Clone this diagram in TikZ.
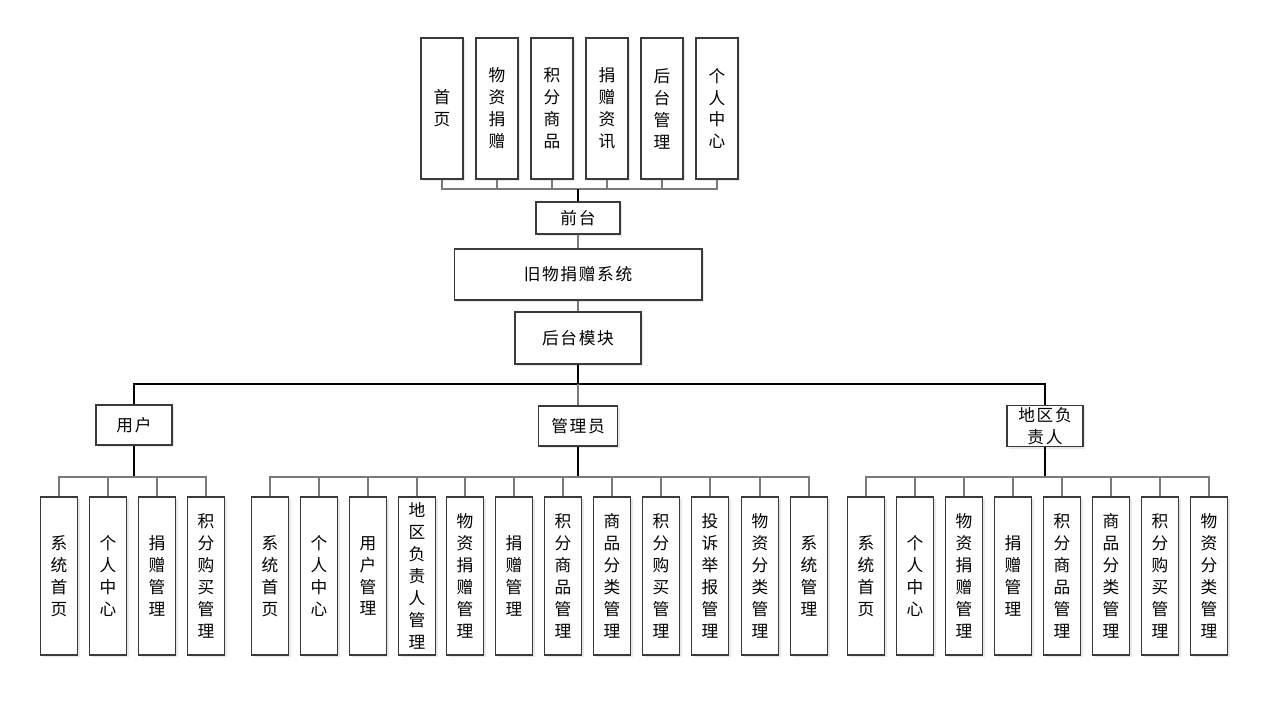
\documentclass[tikz,border=0pt]{standalone}
\usepackage{fontspec}
\usepackage{tikz}
\usetikzlibrary{shadows}
\newfontfamily\cjk{Noto Sans CJK SC}
\newfontfamily\cjkwide[LetterSpace=10]{Noto Sans CJK SC}
\definecolor{BoxLine}{HTML}{3A3A3A}
\definecolor{LinkGray}{HTML}{7A7A7A}

\begin{document}
\begin{tikzpicture}[x=0.02cm, y=-0.02cm,
  every node/.style={font=\cjk\fontsize{9.5}{12.5}\selectfont},
  bx/.style={draw=BoxLine, fill=white, line width=0.6pt, inner sep=1pt, align=center,
             drop shadow={opacity=0.18, shadow xshift=1.2pt, shadow yshift=-1.2pt}},
  hbox/.style={bx, font=\cjkwide\fontsize{9.5}{12.5}\selectfont},
  topbox/.style={bx, minimum width=0.84cm, minimum height=2.82cm},
  leaf/.style={bx, minimum width=0.74cm, minimum height=3.16cm},
  link/.style={LinkGray, line width=0.6pt},
  trunk/.style={black, line width=1.2pt}]
  \useasboundingbox (0,0) rectangle (1276,704);
  % front end
  \node[topbox] (sy)   at (442,108.5) {首\\页};
  \node[topbox] (wzjz) at (497,108.5) {物\\资\\捐\\赠};
  \node[topbox] (jfsp) at (552,108.5) {积\\分\\商\\品};
  \node[topbox] (jzzx) at (607,108.5) {捐\\赠\\资\\讯};
  \node[topbox] (htgl) at (662,108.5) {后\\台\\管\\理};
  \node[topbox] (grzx) at (717,108.5) {个\\人\\中\\心};
  \node[hbox, minimum width=1.68cm, minimum height=0.64cm] (qt)   at (578,218)   {前台};
  \node[hbox, minimum width=4.96cm, minimum height=1.02cm] (xt)   at (578,274.5) {旧物捐赠系统};
  \node[hbox, minimum width=2.52cm, minimum height=1.04cm] (htmk) at (578,338)   {后台模块};
  % roles
  \node[hbox, minimum width=1.52cm, minimum height=0.8cm] (yh)  at (134,425)  {用户};
  \node[hbox, minimum width=1.58cm, minimum height=0.8cm] (gly) at (578,426)  {管理员};
  \node[hbox, minimum width=1.52cm, minimum height=0.8cm] (dq)  at (1045,426) {地区负\\责人};
  % user
  \node[leaf] (u1) at (59,576)  {系\\统\\首\\页};
  \node[leaf] (u2) at (108,576) {个\\人\\中\\心};
  \node[leaf] (u3) at (157,576) {捐\\赠\\管\\理};
  \node[leaf] (u4) at (206,576) {积\\分\\购\\买\\管\\理};
  % admin
  \node[leaf] (a1)  at (270,576) {系\\统\\首\\页};
  \node[leaf] (a2)  at (319,576) {个\\人\\中\\心};
  \node[leaf] (a3)  at (368,576) {用\\户\\管\\理};
  \node[leaf] (a4)  at (417,576) {地\\区\\负\\责\\人\\管\\理};
  \node[leaf] (a5)  at (465,576) {物\\资\\捐\\赠\\管\\理};
  \node[leaf] (a6)  at (514,576) {捐\\赠\\管\\理};
  \node[leaf] (a7)  at (563,576) {积\\分\\商\\品\\管\\理};
  \node[leaf] (a8)  at (612,576) {商\\品\\分\\类\\管\\理};
  \node[leaf] (a9)  at (661,576) {积\\分\\购\\买\\管\\理};
  \node[leaf] (a10) at (710,576) {投\\诉\\举\\报\\管\\理};
  \node[leaf] (a11) at (760,576) {物\\资\\分\\类\\管\\理};
  \node[leaf] (a12) at (809,576) {系\\统\\管\\理};
  % regional
  \node[leaf] (r1) at (866,576)  {系\\统\\首\\页};
  \node[leaf] (r2) at (915,576)  {个\\人\\中\\心};
  \node[leaf] (r3) at (964,576)  {物\\资\\捐\\赠\\管\\理};
  \node[leaf] (r4) at (1013,576) {捐\\赠\\管\\理};
  \node[leaf] (r5) at (1062,576) {积\\分\\商\\品\\管\\理};
  \node[leaf] (r6) at (1111,576) {商\\品\\分\\类\\管\\理};
  \node[leaf] (r7) at (1160,576) {积\\分\\购\\买\\管\\理};
  \node[leaf] (r8) at (1209,576) {物\\资\\分\\类\\管\\理};
  % connectors
  \coordinate (qtbus) at (578,189);
  \coordinate (mbus)  at (578,384);
  \coordinate (ubus)  at (134,477);
  \coordinate (abus)  at (578,477);
  \coordinate (rbus)  at (1045,477);
  \foreach \n in {sy,wzjz,jfsp,jzzx,htgl,grzx} \draw[link] (\n.south) |- (qtbus);
  \draw[trunk] (qtbus) -- (qt.north);
  \draw[link] (qt.south) -- (xt.north) (xt.south) -- (htmk.north);
  \draw[trunk] (htmk.south) -- (mbus);
  \draw[black, line width=0.6pt] (yh.north) |- (mbus) -| (dq.north);
  \draw[link] (mbus) -- (gly.north);
  \draw[trunk] (yh.south) -- (ubus) (gly.south) -- (abus) (dq.south) -- (rbus);
  \foreach \n in {u1,u2,u3,u4} \draw[link] (\n.north) |- (ubus);
  \foreach \n in {a1,a2,a3,a4,a5,a6,a7,a8,a9,a10,a11,a12} \draw[link] (\n.north) |- (abus);
  \foreach \n in {r1,r2,r3,r4,r5,r6,r7,r8} \draw[link] (\n.north) |- (rbus);
\end{tikzpicture}
\end{document}
